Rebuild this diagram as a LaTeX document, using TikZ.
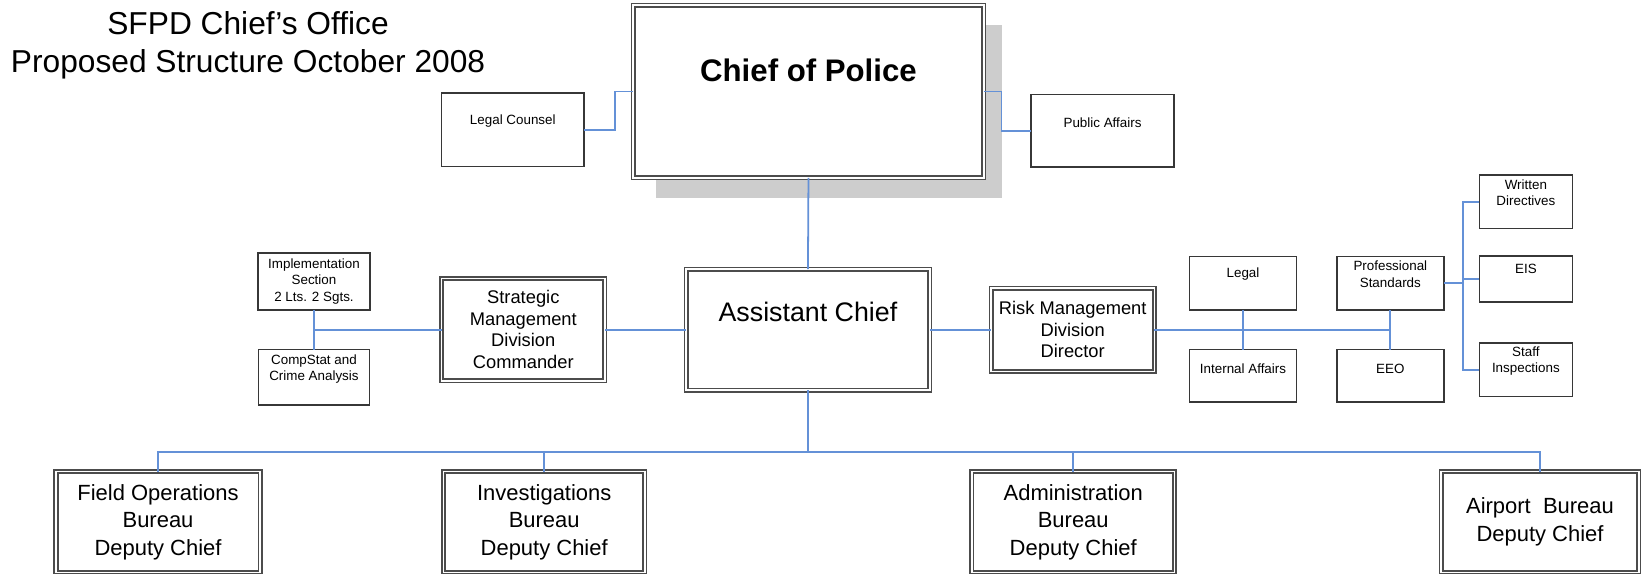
\documentclass[tikz,border=0pt]{standalone}
\usepackage{fontspec}
\setmainfont{Liberation Sans}
\definecolor{conn}{RGB}{100,145,215}
\definecolor{shadowgray}{RGB}{205,205,205}
\definecolor{boxline}{RGB}{55,55,55}
\tikzset{
  box/.style={draw=boxline, line width=1.5pt, fill=white, inner sep=0pt, outer sep=0pt, align=center},
  dblbox/.style={draw=black!70, line width=1.7pt, double=white, double distance=1.4pt, fill=white, inner sep=0pt, outer sep=0pt, align=center},
  smalltxt/.style={inner sep=0pt, align=center, font=\fontsize{12.8}{15.6}\selectfont},
  midtxt/.style={font=\fontsize{17.5}{20.6}\selectfont},
  bigtxt/.style={font=\fontsize{21}{26.3}\selectfont},
  link/.style={draw=conn, line width=1.7pt},
}
\begin{document}
\begin{tikzpicture}[x=1pt,y=-1pt]
\useasboundingbox (0,0) rectangle (1568,548);

% title
\node[align=center, inner sep=0pt, font=\fontsize{30.3}{36}\selectfont] (title) at (237,43) {SFPD Chief's Office\\Proposed Structure October 2008};

% shadow of chief box
\fill[shadowgray] (626.5,24) rectangle (957,189);

% chief and side boxes
\node[dblbox, minimum width=335pt, minimum height=165pt] (chief) at (772.5,87.5) {};
\node[inner sep=0pt, font=\bfseries\fontsize{29.8}{35}\selectfont] (chiefT) at ([yshift=20pt]chief.center) {Chief of Police};

\node[box, minimum width=136pt, minimum height=70pt] (legalc) at (490,124) {};
\node[smalltxt] (legalcT) at ([yshift=8pt]legalc.center) {Legal Counsel};
\node[box, minimum width=137pt, minimum height=69pt] (pubaff) at (1053.5,125) {};
\node[smalltxt] (pubaffT) at ([yshift=8pt]pubaff.center) {Public Affairs};

% assistant chief
\node[dblbox, minimum width=233pt, minimum height=115.5pt] (asst) at (772,315) {};
\node[inner sep=0pt, font=\fontsize{25.6}{30}\selectfont] (asstT) at ([yshift=17pt]asst.center) {Assistant Chief};

% strategic management
\node[dblbox, midtxt, minimum width=156pt, minimum height=98pt] (strat) at (500,315) {Strategic\\Management\\Division\\Commander};
\node[box, smalltxt, minimum width=107pt, minimum height=54pt] (impl) at (300,269) {Implementation\\Section\\2 Lts. 2 Sgts.};
\node[box, minimum width=106pt, minimum height=53pt] (comp) at (300,360.5) {};
\node[smalltxt] (compT) at ([yshift=8pt]comp.center) {CompStat and\\Crime Analysis};

% risk management
\node[dblbox, midtxt, minimum width=156pt, minimum height=79.5pt] (risk) at (1025,315) {Risk Management\\Division\\Director};
\node[box, minimum width=102pt, minimum height=51pt] (legal) at (1187.7,270.7) {};
\node[smalltxt] (legalT) at ([yshift=8.7pt]legal.center) {Legal};
\node[box, minimum width=102pt, minimum height=50pt] (ia) at (1187.7,359) {};
\node[smalltxt] (iaT) at ([yshift=7pt]ia.center) {Internal Affairs};
\node[box, minimum width=102.5pt, minimum height=51pt] (prof) at (1328.5,270.7) {};
\node[smalltxt] (profT) at ([yshift=8.7pt]prof.center) {Professional\\Standards};
\node[box, minimum width=102.5pt, minimum height=50pt] (eeo) at (1328.5,359) {};
\node[smalltxt] (eeoT) at ([yshift=7pt]eeo.center) {EEO};

\node[box, minimum width=89pt, minimum height=51pt] (wd) at (1458,192.7) {};
\node[smalltxt] (wdT) at ([yshift=8.7pt]wd.center) {Written\\Directives};
\node[box, minimum width=89pt, minimum height=43.7pt] (eis) at (1458,266.5) {};
\node[smalltxt] (eisT) at ([yshift=10pt]eis.center) {EIS};
\node[box, minimum width=89pt, minimum height=51pt] (si) at (1458,353.5) {};
\node[smalltxt] (siT) at ([yshift=8.5pt]si.center) {Staff\\Inspections};

% bureaus
\node[dblbox, bigtxt, minimum width=195pt, minimum height=96.3pt] (fob) at (151,498.85) {Field Operations\\Bureau\\Deputy Chief};
\node[dblbox, bigtxt, minimum width=192.4pt, minimum height=96.3pt] (inv) at (520,498.85) {Investigations\\Bureau\\Deputy Chief};
\node[dblbox, bigtxt, minimum width=193.7pt, minimum height=96.3pt] (adm) at (1025.5,498.85) {Administration\\Bureau\\Deputy Chief};
\node[dblbox, bigtxt, minimum width=189pt, minimum height=96.3pt] (air) at (1471.5,498.85) {Airport\ \ Bureau\\Deputy Chief};

% connectors
\draw[link] (chief.south) -- (asst.north);
\draw[link] (legalc.east) -- ++(30,0) |- (chief.west);
\draw[link] (chief.east) -- ++(17,0) |- (pubaff.west);

\coordinate (busB) at (772,431.6);
\draw[link] (asst.south) -- (busB);
\draw[link] (fob.north) |- (busB) -| (air.north);
\draw[link] (inv.north) -- (inv.north |- busB);
\draw[link] (adm.north) -- (adm.north |- busB);

\draw[link] (strat.east) -- (strat.east -| asst.west);
\coordinate (leftJ) at (300,315);
\draw[link] (strat.west) -- (leftJ);
\draw[link] (impl.south) -- (impl.south |- comp.north);

\draw[link] (asst.east) -- (asst.east -| risk.west);
\coordinate (riskJ) at (1328.5,315);
\draw[link] (risk.east) -- (riskJ);
\draw[link] (legal.south) -- (ia.north);
\draw[link] (prof.south) -- (eeo.north);
\coordinate (profJ) at (1398,270.7);
\draw[link] (prof.east) -- (profJ);
\draw[link] (wd.west) -| (profJ) |- (si.west);
\draw[link] (eis.west) -- (eis.west -| profJ);
\end{tikzpicture}
\end{document}
